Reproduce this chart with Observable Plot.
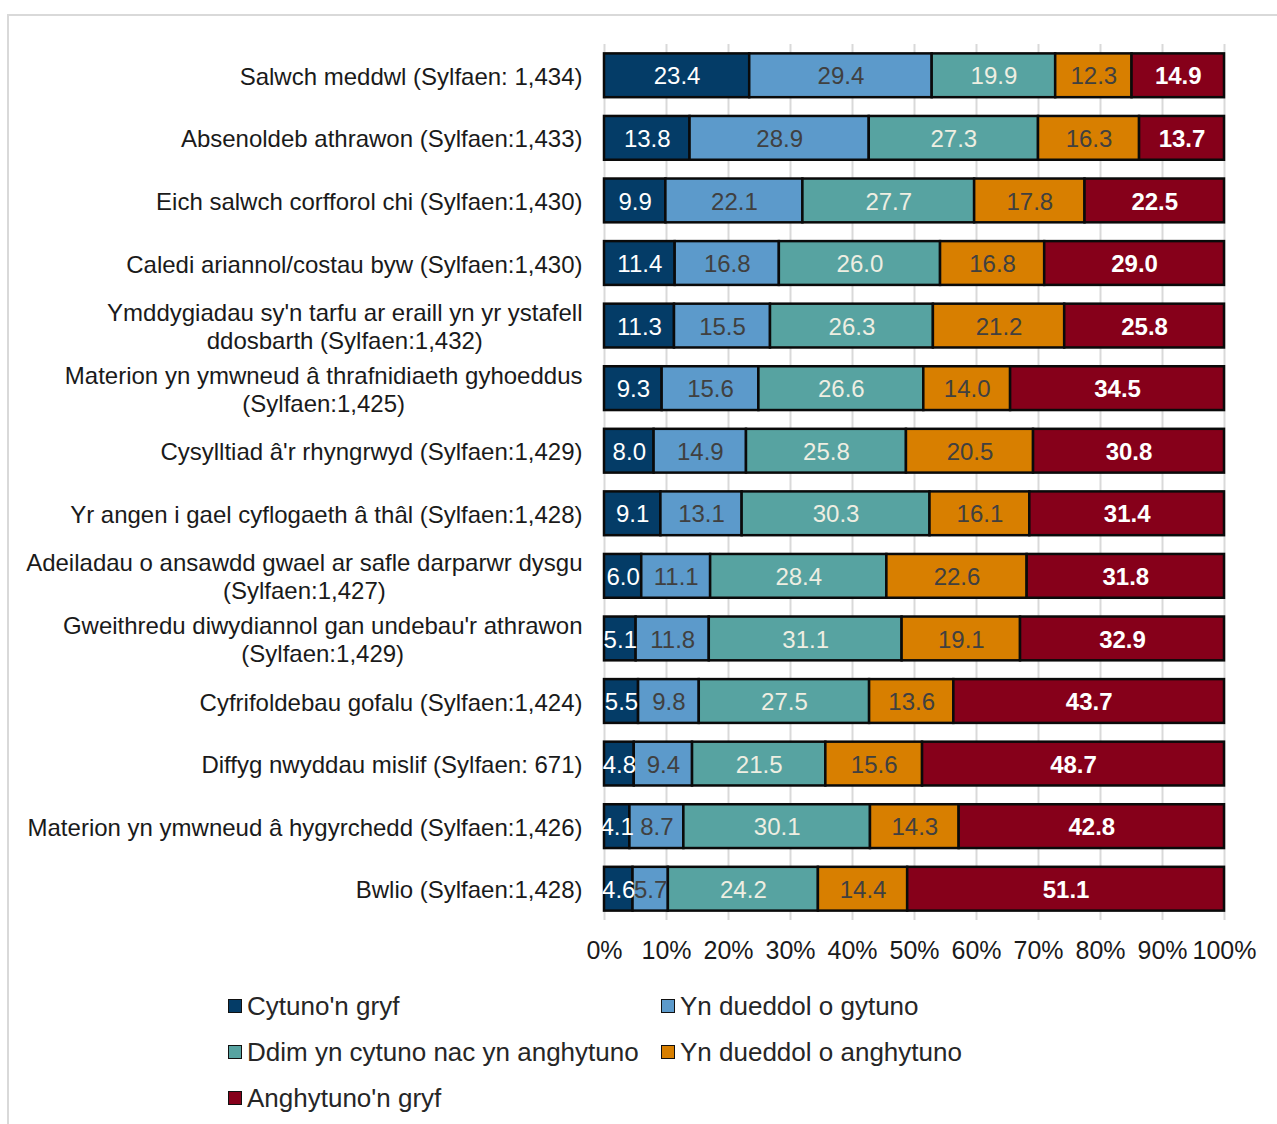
<!DOCTYPE html>
<html><head><meta charset="utf-8">
<script src="https://cdn.jsdelivr.net/npm/d3@7"></script>
<script src="https://cdn.jsdelivr.net/npm/@observablehq/plot@0.6"></script>
<style>
body{margin:0;background:#fff;overflow:hidden;font-family:"Liberation Sans",Arial,sans-serif;width:1277px;height:1124px;position:relative;}
#frame{position:absolute;left:7px;top:14px;width:1400px;height:1300px;border:2px solid #d9d9d9;}
#chart{position:absolute;left:0;top:0;}
#legend{position:absolute;left:0;top:0;width:1277px;}
.li{position:absolute;display:flex;align-items:center;font-size:26px;color:#262626;height:30px;white-space:nowrap;}
.sw{width:12px;height:12px;border:1.5px solid #111;margin-right:5px;flex:none;}
</style></head><body>
<div id="frame"></div><div id="chart"></div><div id="legend"></div>
<script>
const categories = [
  "Salwch meddwl (Sylfaen: 1,434)",
  "Absenoldeb athrawon (Sylfaen:1,433)",
  "Eich salwch corfforol chi (Sylfaen:1,430)",
  "Caledi ariannol/costau byw (Sylfaen:1,430)",
  "Ymddygiadau sy'n tarfu ar eraill yn yr ystafell\nddosbarth (Sylfaen:1,432)",
  "Materion yn ymwneud â thrafnidiaeth gyhoeddus\n(Sylfaen:1,425)",
  "Cysylltiad â'r rhyngrwyd (Sylfaen:1,429)",
  "Yr angen i gael cyflogaeth â thâl (Sylfaen:1,428)",
  "Adeiladau o ansawdd gwael ar safle darparwr dysgu\n(Sylfaen:1,427)",
  "Gweithredu diwydiannol gan undebau'r athrawon\n(Sylfaen:1,429)",
  "Cyfrifoldebau gofalu (Sylfaen:1,424)",
  "Diffyg nwyddau mislif (Sylfaen: 671)",
  "Materion yn ymwneud â hygyrchedd (Sylfaen:1,426)",
  "Bwlio (Sylfaen:1,428)"
];
const seriesNames = ["Cytuno'n gryf","Yn dueddol o gytuno","Ddim yn cytuno nac yn anghytuno","Yn dueddol o anghytuno","Anghytuno'n gryf"];
const cytunoGryf      = [23.4,13.8, 9.9,11.4,11.3, 9.3, 8.0, 9.1, 6.0, 5.1, 5.5, 4.8, 4.1, 4.6];
const dueddolGytuno   = [29.4,28.9,22.1,16.8,15.5,15.6,14.9,13.1,11.1,11.8, 9.8, 9.4, 8.7, 5.7];
const ddimCytuno      = [19.9,27.3,27.7,26.0,26.3,26.6,25.8,30.3,28.4,31.1,27.5,21.5,30.1,24.2];
const dueddolAnghytuno= [12.3,16.3,17.8,16.8,21.2,14.0,20.5,16.1,22.6,19.1,13.6,15.6,14.3,14.4];
const anghytunoGryf   = [14.9,13.7,22.5,29.0,25.8,34.5,30.8,31.4,31.8,32.9,43.7,48.7,42.8,51.1];
const tickLabels = ["0%","10%","20%","30%","40%","50%","60%","70%","80%","90%","100%"];
const tickValues = [0,10,20,30,40,50,60,70,80,90,100];

const seriesColors = ["#043C67","#5C9ACB","#57A3A1","#D87F00","#86001A"];
const labelColors  = ["#ffffff","#404040","#EEEEE2","#404040","#ffffff"];
const labelWeights = ["normal","normal","normal","normal","bold"];

const seriesValues = [cytunoGryf, dueddolGytuno, ddimCytuno, dueddolAnghytuno, anghytunoGryf];
const tidy = categories.flatMap((c, i) => seriesNames.map((s, j) => ({category: c, series: s, value: seriesValues[j][i]})));

const FONT = "'Liberation Sans', Arial, sans-serif";
const canvas = document.createElement("canvas");
const ctx = canvas.getContext("2d");
ctx.font = "24px 'Liberation Sans'";
const gap = 22;

const stackOpts = (extra) => Plot.stackX({offset: "normalize", x: "value", y: "category", z: "series", order: seriesNames, ...extra});

const labelMarks = categories.map(c => {
  const lines = c.split("\n");
  const w = Math.max(...lines.map(l => ctx.measureText(l).width));
  return Plot.text([c], {
    x: 0, y: d => d, text: d => d,
    textAnchor: lines.length > 1 ? "middle" : "end",
    dx: lines.length > 1 ? -(gap + w / 2) : -gap,
    fontSize: 24, lineHeight: 1.17, fill: "#1a1a1a", fontFamily: FONT
  });
});

const valueMarks = seriesNames.map((s, j) => Plot.text(tidy, stackOpts({
  text: d => d.series === s ? d.value.toFixed(1) : "",
  fill: labelColors[j], fontWeight: labelWeights[j], fontSize: 24, fontFamily: FONT, dy: 1
})));

const chart = Plot.plot({
  width: 1277, height: 975,
  marginLeft: 604, marginRight: 53, marginTop: 44, marginBottom: 55,
  style: {fontFamily: FONT, background: "transparent"},
  x: {domain: [0, 1], axis: null},
  y: {domain: categories, paddingInner: 0.3, paddingOuter: 0.15, round: false, axis: null},
  color: {domain: seriesNames, range: seriesColors},
  marks: [
    Plot.ruleX(tickValues, {x: d => d / 100, stroke: "#d9d9d9", strokeWidth: 2}),
    Plot.barX(tidy, stackOpts({fill: "series", stroke: "#0a0a0a", strokeWidth: 2.5})),
    ...valueMarks,
    ...labelMarks,
    Plot.axisX({ticks: tickValues.map(d => d / 100), tickFormat: (d, i) => tickLabels[i], tickSize: 0, tickPadding: 21, fontSize: 25, fill: "#1a1a1a", fontFamily: FONT, label: null})
  ]
});
document.getElementById("chart").appendChild(chart);

const legendPos = [[228, 1006], [661, 1006], [228, 1052], [661, 1052], [228, 1098]];
const legend = document.getElementById("legend");
seriesNames.forEach((s, j) => {
  const item = document.createElement("div");
  item.className = "li";
  item.style.left = legendPos[j][0] + "px";
  item.style.top = (legendPos[j][1] - 15) + "px";
  const sw = document.createElement("span");
  sw.className = "sw";
  sw.style.background = seriesColors[j];
  const t = document.createElement("span");
  t.textContent = s;
  item.appendChild(sw); item.appendChild(t);
  legend.appendChild(item);
});
</script>
</body></html>
